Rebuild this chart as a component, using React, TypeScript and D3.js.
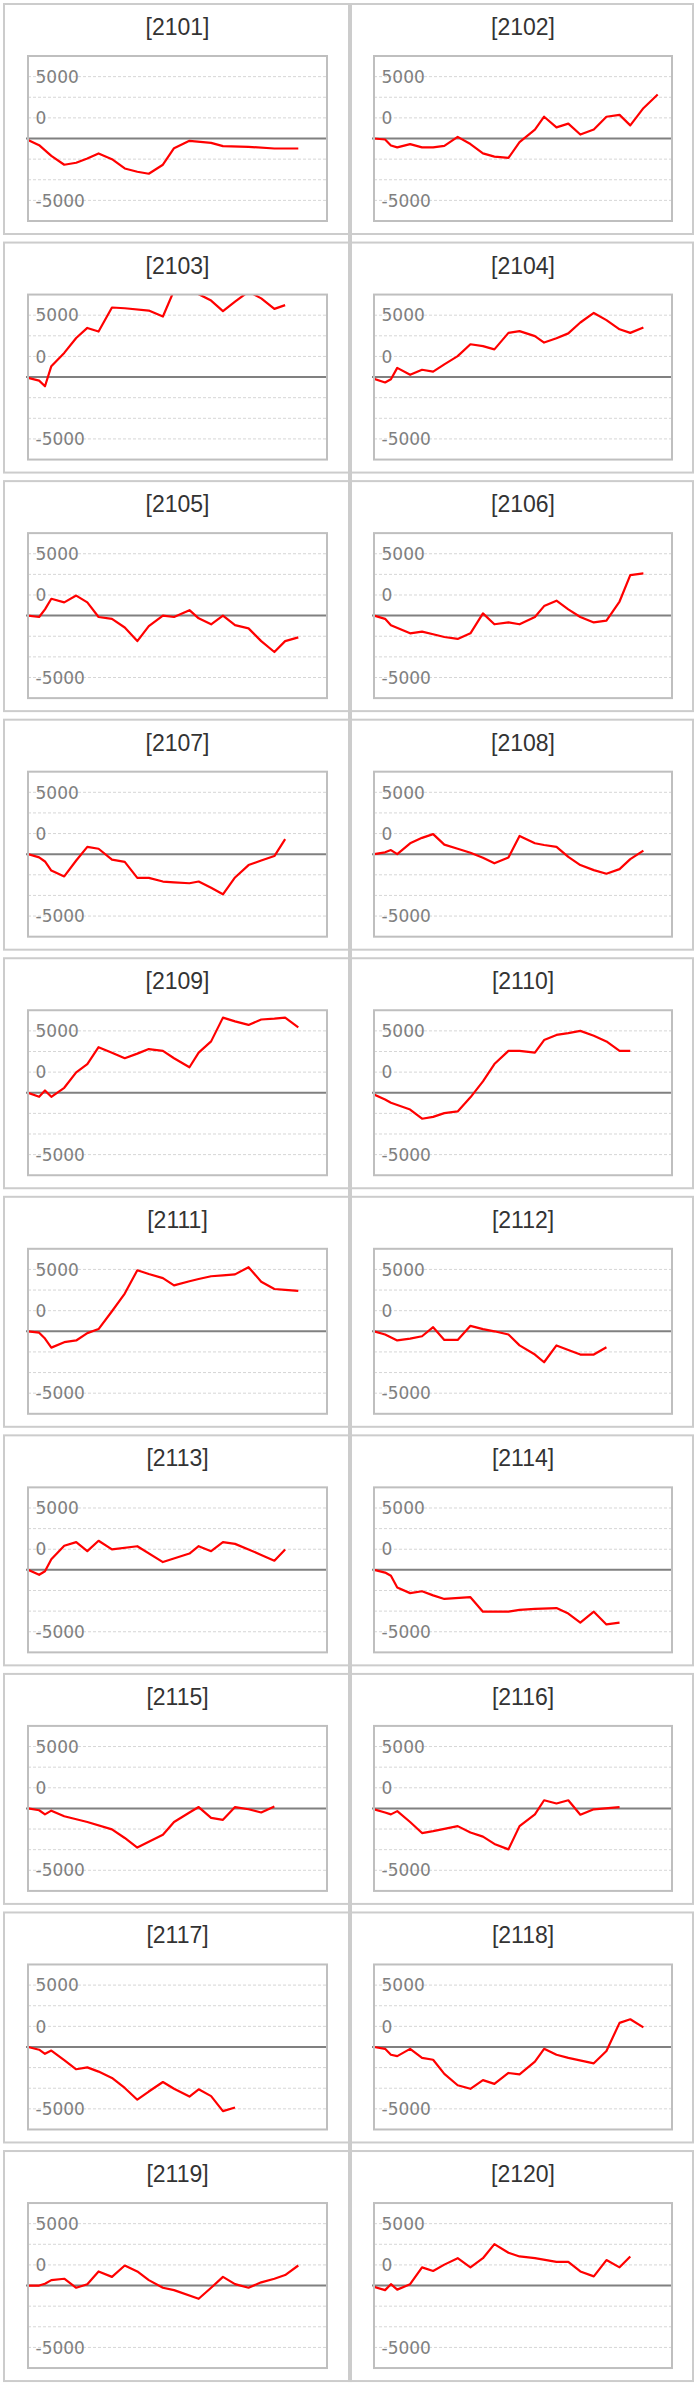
import * as d3 from "d3";
import React from "react";

// contract codes, one panel each (two per row)
const contracts = [
  "2101", "2102", "2103", "2104", "2105", "2106", "2107", "2108", "2109", "2110",
  "2111", "2112", "2113", "2114", "2115", "2116", "2117", "2118", "2119", "2120",
];

// observation positions on the (unlabelled) time axis
const obsX = [0, 0.93, 1.42, 1.95, 3.03, 4.03, 4.96, 5.9, 7.02, 8.09, 9.14, 10.1, 11.28,
  12.21, 13.5, 14.27, 15.31, 16.3, 17.31, 18.44, 19.5, 20.6, 21.5, 22.6, 23.8];

type V = number | null;
const s2101: V[] = [-130, -540, null, -1400, -2120, -1960, -1610, -1210, -1670, -2420, -2690, -2850, -2120, -780, -190, null, -350, -620, null, -670, null, -810, null, -810, null];
const s2102: V[] = [0, -80, -560, -720, -450, -720, -720, -590, 130, -450, -1200, -1460, -1570, -290, 720, 1760, 900, 1200, 320, 720, 1760, 1910, 1060, 2450, 3560];
const s2103: V[] = [-70, -290, -740, 880, 1950, 3160, 3970, 3680, 5620, 5560, null, 5370, 4890, 7000, 7300, 6700, 6180, 5330, 6100, 6900, 6360, 5510, 5810, null, null];
const s2104: V[] = [-150, -440, -180, 740, 180, 590, 440, 1030, 1690, 2650, 2500, 2240, 3570, 3710, 3310, 2790, 3130, 3530, 4410, 5180, 4600, 3860, 3570, 4010, null];
const s2105: V[] = [0, -110, 510, 1360, 1070, 1620, 1070, -110, -260, -960, -2060, -850, 0, -110, 440, -220, -700, 0, -770, -1030, -2060, -2940, -2060, -1760, null];
const s2106: V[] = [0, -260, -770, null, -1430, -1290, -1510, -1730, -1880, -1430, 180, -700, -550, -700, -110, 770, 1210, 510, -110, -550, -400, 1140, 3270, 3420, null];
const s2107: V[] = [0, -260, -590, -1320, -1800, -510, 590, 440, -440, -620, -1910, -1910, -2210, -2280, -2350, -2210, -2720, -3240, -1880, -880, -510, -150, 1210, null, null];
const s2108: V[] = [0, 150, 330, 0, 880, 1320, 1620, 770, 440, 110, -290, -740, -260, 1470, 880, 740, 590, -220, -880, -1290, -1580, -1210, -400, 290, null];
const s2109: V[] = [0, -330, 180, -330, 400, 1650, 2320, 3680, 3240, 2790, 3160, 3530, 3380, 2790, 2060, 3240, 4150, 6070, 5770, 5480, 5920, 5990, 6070, 5290, null];
const s2110: V[] = [-150, -550, -810, null, -1360, -2100, -1950, -1650, -1510, -370, 920, 2320, 3380, 3380, 3240, 4260, 4670, 4820, 5000, 4600, 4150, 3380, 3380, null, null];
const s2111: V[] = [0, -110, -590, -1320, -880, -740, -150, 180, 1620, 3050, 4930, 4630, 4300, 3710, 4040, 4230, 4450, 4520, 4600, 5180, 4010, 3420, 3350, 3270, null];
const s2112: V[] = [0, -260, null, -740, -590, -400, 330, -700, -700, 440, 180, 0, -260, -1140, -1880, -2500, -1140, -1510, -1880, -1880, -1290, null, null, null, null];
const s2113: V[] = [0, -400, -110, 850, 1950, 2240, 1510, 2350, 1650, null, 1910, null, 630, null, 1320, 1910, 1510, 2240, 2100, 1650, 1210, 740, 1650, null, null];
const s2114: V[] = [0, -220, -480, -1430, -1880, -1730, -2060, -2350, null, -2210, -3380, null, -3380, -3240, -3160, null, -3090, -3530, -4260, -3380, -4410, -4260, null, null, null];
const s2115: V[] = [0, -150, -480, -180, -630, null, -1100, null, -1690, -2390, -3160, -2690, -2130, -1100, -330, 110, -770, -920, 110, -70, -330, 150, null, null, null];
const s2116: V[] = [-70, -330, -480, -220, -1100, -1990, -1840, -1650, -1430, -1950, -2280, -2870, -3310, -1430, -480, 660, 400, 660, -510, -70, null, 110, null, null, null];
const s2117: V[] = [0, -220, -550, -290, -1070, -1800, -1650, -1990, -2500, -3310, -4260, -3600, -2830, -3380, -4010, -3420, -3970, -5180, -4890, null, null, null, null, null, null];
const s2118: V[] = [0, -150, -630, -740, -150, -880, -1030, -2170, -3090, -3380, -2680, -2980, -2100, -2210, -1180, -150, -630, -880, null, -1320, -330, 1950, 2240, 1580, null];
const s2119: V[] = [0, 0, 150, 440, 550, -180, 110, 1140, 700, 1620, 1140, 440, -180, -370, null, -1070, -180, 700, 110, -180, 260, 550, 850, 1620, null];
const s2120: V[] = [-110, -370, 110, -330, 110, 1470, 1180, 1690, 2210, 1470, 2210, 3350, 2650, 2350, 2210, null, 1910, 1910, 1140, 740, 2060, 1470, 2350, null, null];

const series = [s2101, s2102, s2103, s2104, s2105, s2106, s2107, s2108, s2109, s2110,
  s2111, s2112, s2113, s2114, s2115, s2116, s2117, s2118, s2119, s2120];

const gridValues = [-5000, -10000 / 3, -5000 / 3, 5000 / 3, 10000 / 3, 5000];
const tickValues = [5000, 5000 / 3, -5000];
const tickLabels = ["5000", "0", "-5000"];

const W = 699
const H = 2385
const rowPitch = 238.56
const rowTop0 = 3
const columns = [
  { x0: 3, x1: 350, px0: 28, px1: 327 },
  { x0: 350, x1: 694, px0: 374, px1: 672 },
]

function Panel({ code, values, col, top, idx }: { code: string, values: V[], col: number, top: number, idx: number }) {
  const c = columns[col]
  const pTop = top + 53
  const pBottom = pTop + 165
  const x = d3.scaleLinear().domain([0, 25]).range([c.px0, c.px1])
  const y = d3.scaleLinear().domain([-20000 / 3, 20000 / 3]).range([pBottom, pTop])
  const pts = obsX.map((v, i) => [v, values[i]] as [number, V]).filter(d => d[1] != null) as [number, number][]
  const line = d3.line<[number, number]>().x(d => x(d[0])).y(d => y(d[1]))
  const clipId = `clip-${idx}`

  return (
    <g>
      <rect x={c.x0 + 1} y={top + 1} width={c.x1 - c.x0 - 2} height={230} fill="#fff" stroke="#cccccc" strokeWidth={2} />
      <text x={(c.x0 + c.x1) / 2 + 1} y={top + 32} textAnchor="middle" fontFamily="'Liberation Sans', Arial, sans-serif" fontSize={23} fill="#333">
        [{code}]
      </text>
      <clipPath id={clipId}>
        <rect x={c.px0} y={pTop} width={c.px1 - c.px0} height={pBottom - pTop} />
      </clipPath>
      {gridValues.map((g, i) => (
        <line key={i} x1={c.px0} x2={c.px1} y1={y(g)} y2={y(g)} stroke="#d6d6d6" strokeWidth={1} strokeDasharray="3,2" />
      ))}
      {tickValues.map((t, i) => (
        <text key={i} x={c.px0 + 7.5} y={y(t) + 6.2} fontFamily="'DejaVu Sans', Verdana, sans-serif" fontSize={17} fill="#808080">
          {tickLabels[i]}
        </text>
      ))}
      <line x1={c.px0 - 2} x2={c.px1} y1={y(0)} y2={y(0)} stroke="#808080" strokeWidth={2} />
      <path d={line(pts) || ""} fill="none" stroke="#ff0000" strokeWidth={2.2} strokeLinejoin="round" clipPath={`url(#${clipId})`} />
      <rect x={c.px0} y={pTop} width={c.px1 - c.px0} height={pBottom - pTop} fill="none" stroke="#bfbfbf" strokeWidth={2} />
    </g>
  )
}

export default function App() {
  return (
    <svg width={W} height={H} style={{ position: "absolute", left: 0, top: 0, display: "block", background: "#fff" }}>
      {contracts.map((code, i) => {
        const row = Math.floor(i / 2)
        const col = i % 2
        const top = rowTop0 + row * rowPitch
        return <Panel key={code} code={code} values={series[i]} col={col} top={top} idx={i} />
      })}
      <rect x={348} y={rowTop0} width={4} height={rowPitch * 9 + 232} fill="#cccccc" />
    </svg>
  )
}
